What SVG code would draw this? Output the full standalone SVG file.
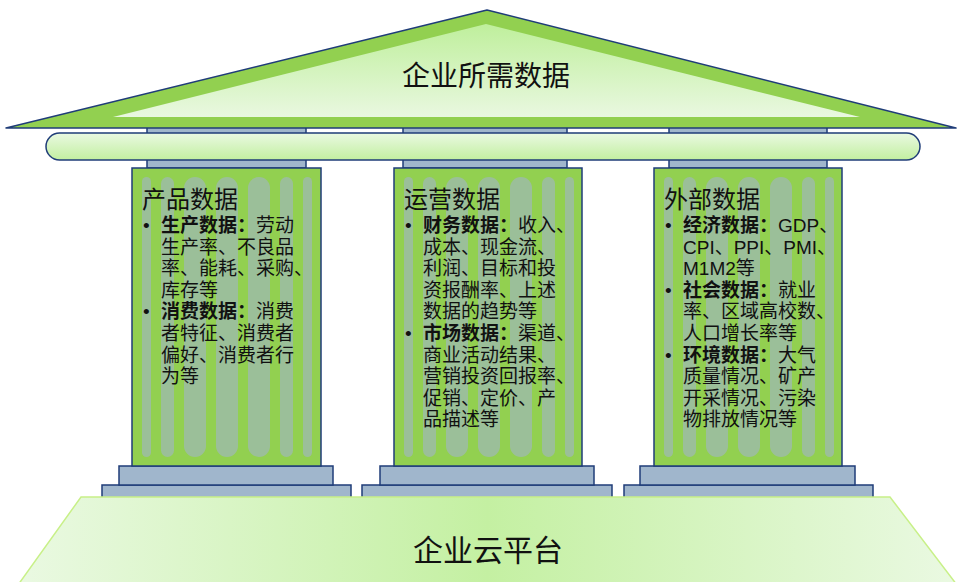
<svg xmlns="http://www.w3.org/2000/svg" width="957" height="582" viewBox="0 0 957 582">
<defs>
<linearGradient id="roofIn" x1="0" y1="0" x2="0" y2="1"><stop offset="0" stop-color="#BFEF9C"/><stop offset="1" stop-color="#E9F8E0"/></linearGradient>
<linearGradient id="beamG" x1="0" y1="0" x2="0" y2="1"><stop offset="0" stop-color="#EAF9E2"/><stop offset="1" stop-color="#C2EFA0"/></linearGradient>
<linearGradient id="platG" x1="0" y1="0" x2="1" y2="0"><stop offset="0" stop-color="#EAF9E2"/><stop offset="0.5" stop-color="#C4F0A2"/><stop offset="1" stop-color="#EAF9E2"/></linearGradient>
<g id="stripes">
<rect x="10" y="9" width="9" height="280" rx="4.5"/>
<rect x="29" y="9" width="13" height="280" rx="6.5"/>
<rect x="52" y="9" width="22" height="280" rx="11"/>
<rect x="84" y="9" width="22" height="280" rx="11"/>
<rect x="116" y="9" width="22" height="280" rx="11"/>
<rect x="148" y="9" width="13" height="280" rx="6.5"/>
<rect x="171" y="9" width="9" height="280" rx="4.5"/>
</g>
</defs>
<style>
.stone{fill:#A0B6CC;stroke:#1F3C78;stroke-width:1.5}
.shaft{fill:#92D050;stroke:#1F3C78;stroke-width:1.5}
.str{fill:#A2B6C6;opacity:0.62}
.t{font-family:"Liberation Sans","Noto Sans CJK SC",sans-serif;fill:#111}
.title{font-size:24px}
.body{font-size:19px}
.b{font-weight:bold}
.big{font-size:28px}
</style>
<rect width="957" height="582" fill="#fff"/>

<g id="column-1">
<rect class="stone" x="147" y="127" width="159" height="41"/>
<rect class="stone" x="102" y="485" width="249" height="20"/>
<rect class="stone" x="119" y="466" width="214" height="19"/>
<rect class="shaft" x="132" y="168" width="189" height="298"/>
<use href="#stripes" class="str" x="132" y="168"/>
<text class="t title" x="142" y="208">产品数据</text>
<g class="t body">
<text x="143" y="232">•</text>
<text x="161" y="232"><tspan class="b">生产数据：</tspan>劳动</text>
<text x="161" y="253.6">生产率、不良品</text>
<text x="161" y="275.2">率、能耗、采购、</text>
<text x="161" y="296.8">库存等</text>
<text x="143" y="318.4">•</text>
<text x="161" y="318.4"><tspan class="b">消费数据：</tspan>消费</text>
<text x="161" y="340">者特征、消费者</text>
<text x="161" y="361.6">偏好、消费者行</text>
<text x="161" y="383.2">为等</text>
</g>
</g>

<g id="column-2">
<rect class="stone" x="403" y="127" width="164" height="41"/>
<rect class="stone" x="362" y="485" width="250" height="20"/>
<rect class="stone" x="380" y="466" width="214" height="19"/>
<rect class="shaft" x="394" y="168" width="188" height="298"/>
<use href="#stripes" class="str" x="394" y="168"/>
<text class="t title" x="404" y="208">运营数据</text>
<g class="t body">
<text x="405" y="232">•</text>
<text x="423" y="232"><tspan class="b">财务数据：</tspan>收入、</text>
<text x="423" y="253.6">成本、现金流、</text>
<text x="423" y="275.2">利润、目标和投</text>
<text x="423" y="296.8">资报酬率、上述</text>
<text x="423" y="318.4">数据的趋势等</text>
<text x="405" y="340">•</text>
<text x="423" y="340"><tspan class="b">市场数据：</tspan>渠道、</text>
<text x="423" y="361.6">商业活动结果、</text>
<text x="423" y="383.2">营销投资回报率、</text>
<text x="423" y="404.8">促销、定价、产</text>
<text x="423" y="426.4">品描述等</text>
</g>
</g>

<g id="column-3">
<rect class="stone" x="669" y="127" width="158" height="41"/>
<rect class="stone" x="624" y="485" width="249" height="20"/>
<rect class="stone" x="640" y="466" width="215" height="19"/>
<rect class="shaft" x="654" y="168" width="188" height="298"/>
<use href="#stripes" class="str" x="654" y="168"/>
<text class="t title" x="664" y="208">外部数据</text>
<g class="t body">
<text x="665" y="232">•</text>
<text x="683" y="232"><tspan class="b">经济数据：</tspan>GDP、</text>
<text x="683" y="253.6">CPI、PPI、PMI、</text>
<text x="683" y="275.2">M1M2等</text>
<text x="665" y="296.8">•</text>
<text x="683" y="296.8"><tspan class="b">社会数据：</tspan>就业</text>
<text x="683" y="318.4">率、区域高校数、</text>
<text x="683" y="340">人口增长率等</text>
<text x="665" y="361.6">•</text>
<text x="683" y="361.6"><tspan class="b">环境数据：</tspan>大气</text>
<text x="683" y="383.2">质量情况、矿产</text>
<text x="683" y="404.8">开采情况、污染</text>
<text x="683" y="426.4">物排放情况等</text>
</g>
</g>

<g id="platform">
<polygon points="81,497 890,497 957,585 18,585" fill="url(#platG)" stroke="#C8F088" stroke-width="1.5"/>
<text class="t" x="488" y="561" font-size="30" text-anchor="middle">企业云平台</text>
</g>

<g id="beam">
<rect x="46" y="133" width="874" height="27" rx="13.5" fill="url(#beamG)" stroke="#1F3C78" stroke-width="1.5"/>
</g>

<g id="roof">
<polygon points="6,128 487,10 956,128" fill="#92D050" stroke="#1F3C78" stroke-width="1.5" stroke-linejoin="round"/>
<polygon points="113,117 486,24 860,117" fill="url(#roofIn)"/>
<text class="t big" x="486" y="86" text-anchor="middle">企业所需数据</text>
</g>

<g id="connectors"/>
</svg>
